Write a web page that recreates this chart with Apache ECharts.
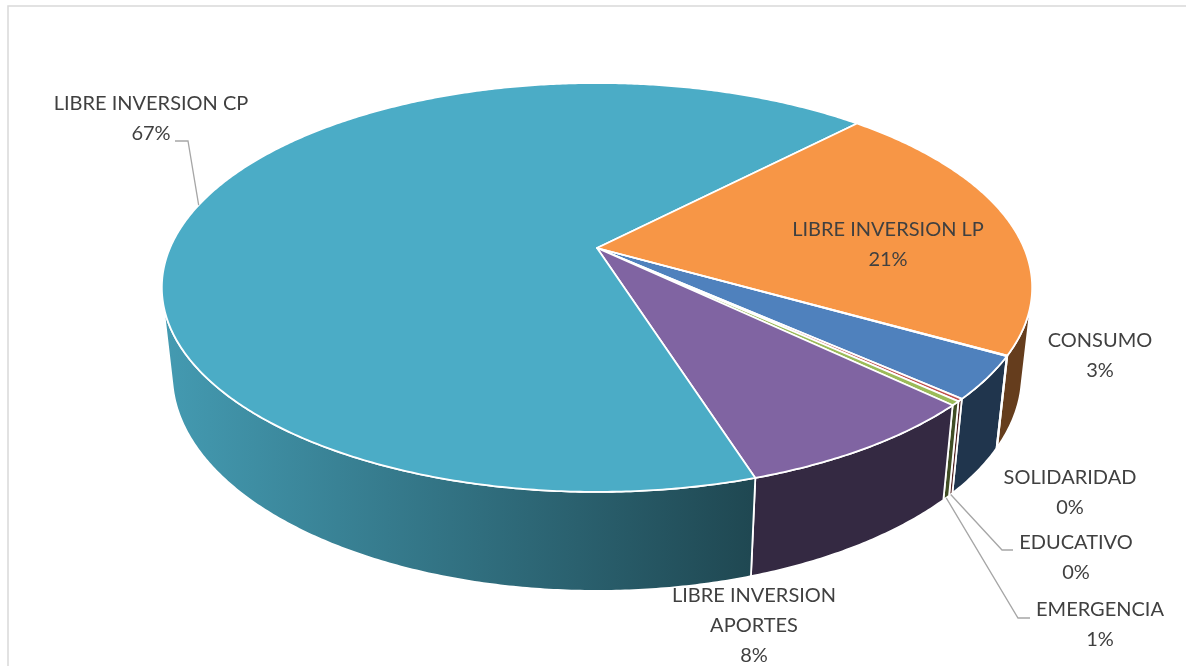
<!DOCTYPE html>
<html>
<head>
<meta charset="utf-8">
<script src="https://cdn.jsdelivr.net/npm/echarts@6/dist/echarts.min.js"></script>
<style>
  html, body { margin: 0; padding: 0; background: #fff; }
  #main { width: 1186px; height: 666px; }
</style>
</head>
<body>
<div id="main"></div>
<script>
// data, in the order the slices run clockwise
const names = ['CONSUMO', 'EDUCATIVO', 'EMERGENCIA', 'LIBRE INVERSION\nAPORTES', 'LIBRE INVERSION CP', 'LIBRE INVERSION LP', 'SOLIDARIDAD'];
const values = [3.36, 0.2, 0.33, 7.94, 67.09, 21.03, 0.05];
const pctLabels = ['3%', '0%', '1%', '8%', '67%', '21%', '0%'];
const colors = ['#4F81BD', '#C0504D', '#9BBB59', '#8064A2', '#4BACC6', '#F79646', '#2C4D75'];

// 3d view
const CX = 597, CY = 248, S = 427;
const sinP = 0.461, cosP = Math.sqrt(1 - sinP * sinP);
const D = 4.6;          // camera distance (radius = 1)
const H = 0.232;        // thickness
const START = 119.8;    // first slice angle, clockwise from top

// label layout (centre of the text block) and leader lines
const labelLayout = {
  'CONSUMO': { x: 1100, y: 356 },
  'EDUCATIVO': { x: 1076, y: 558, leader: [[1013, 550], [1002, 550]], edge: 'bottom' },
  'EMERGENCIA': { x: 1100, y: 625, leader: [[1030, 618], [1018, 618]], edge: 'bottom' },
  'LIBRE INVERSION\nAPORTES': { x: 754, y: 626 },
  'LIBRE INVERSION CP': { x: 151, y: 119, leader: [[175, 141], [188, 141]], edge: 'top' },
  'LIBRE INVERSION LP': { x: 888, y: 245 },
  'SOLIDARIDAD': { x: 1070, y: 493 }
};

const total = values.reduce((a, b) => a + b, 0);
const starts = [];
let acc = START;
values.forEach(v => { starts.push(acc); acc += v / total * 360; });

function proj(theta, h) {
  const t = theta * Math.PI / 180;
  const X = Math.sin(t), Y = Math.cos(t);
  const depth = D + Y * cosP + h * sinP;
  const up = Y * sinP - h * cosP;
  return [CX + S * X * D / depth, CY - S * up * D / depth];
}

function arc(a1, a2, h) {
  const pts = [];
  const n = Math.max(2, Math.ceil((a2 - a1) / 0.5));
  for (let i = 0; i <= n; i++) pts.push(proj(a1 + (a2 - a1) * i / n, h));
  return pts;
}

function shade(hex, f) {
  const n = parseInt(hex.slice(1), 16);
  const r = Math.round(((n >> 16) & 255) * f), g = Math.round(((n >> 8) & 255) * f), b = Math.round((n & 255) * f);
  return 'rgb(' + r + ',' + g + ',' + b + ')';
}

// wall faces the camera where cos(theta) < -1/(D*cos)
const vis = Math.acos(-1 / (D * cosP)) * 180 / Math.PI;

function renderItem(params, api) {
  const i = params.dataIndex;
  const a1 = starts[i];
  const a2 = a1 + api.value(0) / total * 360;
  const color = colors[i];
  const children = [];

  [-360, 0, 360].forEach(k => {
    const lo = Math.max(a1, vis + k), hi = Math.min(a2, 360 - vis + k);
    if (hi > lo) {
      const pts = arc(lo, hi, 0).concat(arc(lo, hi, H).reverse());
      children.push({
        type: 'polygon',
        shape: { points: pts },
        style: {
          fill: new echarts.graphic.LinearGradient(160, 0, 757, 0, [
            { offset: 0, color: shade(color, 0.9) },
            { offset: 1, color: shade(color, 0.41) }
          ], true),
          stroke: '#fff', lineWidth: 1.8, lineJoin: 'round'
        }
      });
    }
  });

  children.push({
    type: 'polygon',
    shape: { points: [[CX, CY]].concat(arc(a1, a2, 0)) },
    style: { fill: color, stroke: '#fff', lineWidth: 1.8, lineJoin: 'round' }
  });

  const lay = labelLayout[names[i]];
  if (lay.leader) {
    const mid = (a1 + a2) / 2;
    const end = proj(mid, lay.edge === 'bottom' ? H : 0);
    children.push({
      type: 'polyline',
      shape: { points: lay.leader.concat([end]) },
      style: { stroke: '#a6a6a6', lineWidth: 1.3, fill: null },
      z2: 20
    });
  }
  children.push({
    type: 'text',
    style: {
      text: names[i] + '\n' + pctLabels[i],
      x: lay.x, y: lay.y,
      align: 'center', verticalAlign: 'middle',
      fontFamily: 'Lato, "Open Sans", sans-serif',
      fontSize: 20, lineHeight: 30,
      fill: '#404040'
    },
    z2: 30
  });
  return { type: 'group', children: children };
}

const chart = echarts.init(document.getElementById('main'));
chart.setOption({
  animation: false,
  backgroundColor: '#fff',
  graphic: [{
    type: 'rect',
    shape: { x: 8, y: 6, width: 1200, height: 700 },
    style: { fill: null, stroke: '#d9d9d9', lineWidth: 1.5 }
  }],
  series: [{
    type: 'custom',
    coordinateSystem: 'none',
    renderItem: renderItem,
    data: values.map((v, i) => ({ name: names[i], value: [v] }))
  }]
});
</script>
</body>
</html>
